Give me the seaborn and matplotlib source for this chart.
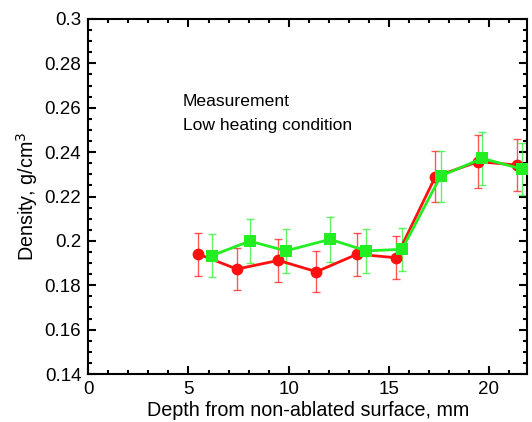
import seaborn as sns
import pandas as pd
import matplotlib.pyplot as plt
from matplotlib.ticker import MultipleLocator

# Data
depth_red = [5.5, 7.42, 9.49, 11.39, 13.42, 15.36, 17.33, 19.47, 21.38]
dens_red = [0.194, 0.1873, 0.1912, 0.1861, 0.194, 0.1924, 0.229, 0.2357, 0.2342]
err_red = [0.0097, 0.0094, 0.0096, 0.0093, 0.0097, 0.0096, 0.0115, 0.0118, 0.0117]

depth_green = [6.15, 8.06, 9.86, 12.07, 13.87, 15.66, 17.59, 19.67, 21.63]
dens_green = [0.1933, 0.1999, 0.1955, 0.2007, 0.1955, 0.1962, 0.2292, 0.2372, 0.2324]
err_green = [0.0097, 0.0100, 0.0098, 0.0100, 0.0098, 0.0098, 0.0115, 0.0119, 0.0116]

red = '#ff1010'
green = '#22ee22'

df = pd.concat([
    pd.DataFrame({'depth': depth_red, 'density': dens_red, 'series': 'red'}),
    pd.DataFrame({'depth': depth_green, 'density': dens_green, 'series': 'green'}),
], ignore_index=True)

sns.set_style('white')
plt.rcParams['font.family'] = ['Liberation Sans', 'DejaVu Sans']
plt.rcParams['text.color'] = 'black'
plt.rcParams['axes.labelcolor'] = 'black'
plt.rcParams['xtick.color'] = 'black'
plt.rcParams['ytick.color'] = 'black'

fig = plt.figure(figsize=(5.32, 4.22), dpi=100)
ax = fig.add_axes([0.166, 0.1137, 0.8246, 0.8413])

# error bars first (thin, lighter)
ax.errorbar(depth_red, dens_red, yerr=err_red, fmt='none', ecolor=red,
            elinewidth=1, capsize=3, capthick=1, alpha=0.7, zorder=1)
ax.errorbar(depth_green, dens_green, yerr=err_green, fmt='none', ecolor=green,
            elinewidth=1, capsize=3, capthick=1, alpha=0.7, zorder=1)

sns.lineplot(data=df, x='depth', y='density', hue='series', style='series',
             palette={'red': red, 'green': green},
             markers={'red': 'o', 'green': 's'}, dashes=False,
             markersize=8.5, markeredgewidth=0, linewidth=2,
             sort=False, estimator=None, legend=False, ax=ax, zorder=3)

ax.set_xlim(0, 21.9)
ax.set_ylim(0.14, 0.3)
ax.xaxis.set_major_locator(MultipleLocator(5))
ax.xaxis.set_minor_locator(MultipleLocator(1))
ax.yaxis.set_minor_locator(MultipleLocator(0.005))
ax.set_yticks([0.14, 0.16, 0.18, 0.2, 0.22, 0.24, 0.26, 0.28, 0.3])
ax.set_yticklabels(['0.14', '0.16', '0.18', '0.2', '0.22', '0.24', '0.26', '0.28', '0.3'])

ax.tick_params(which='both', direction='in', top=True, right=True,
               left=True, bottom=True, color='black', width=1.5)
ax.tick_params(which='major', length=6, labelsize=13.5, pad=5)
ax.tick_params(which='minor', length=3)
for s in ax.spines.values():
    s.set_color('black')
    s.set_linewidth(1.5)

ax.set_xlabel('Depth from non-ablated surface, mm', fontsize=14.2, labelpad=2)
ax.set_ylabel('Density, g/cm$^3$', fontsize=14.2, labelpad=3)

ax.text(0.216, 0.768, 'Measurement', transform=ax.transAxes,
        fontsize=12.6, va='center', ha='left')
ax.text(0.216, 0.70, 'Low heating condition', transform=ax.transAxes,
        fontsize=12.6, va='center', ha='left')

fig.savefig('out.png', dpi=100)
